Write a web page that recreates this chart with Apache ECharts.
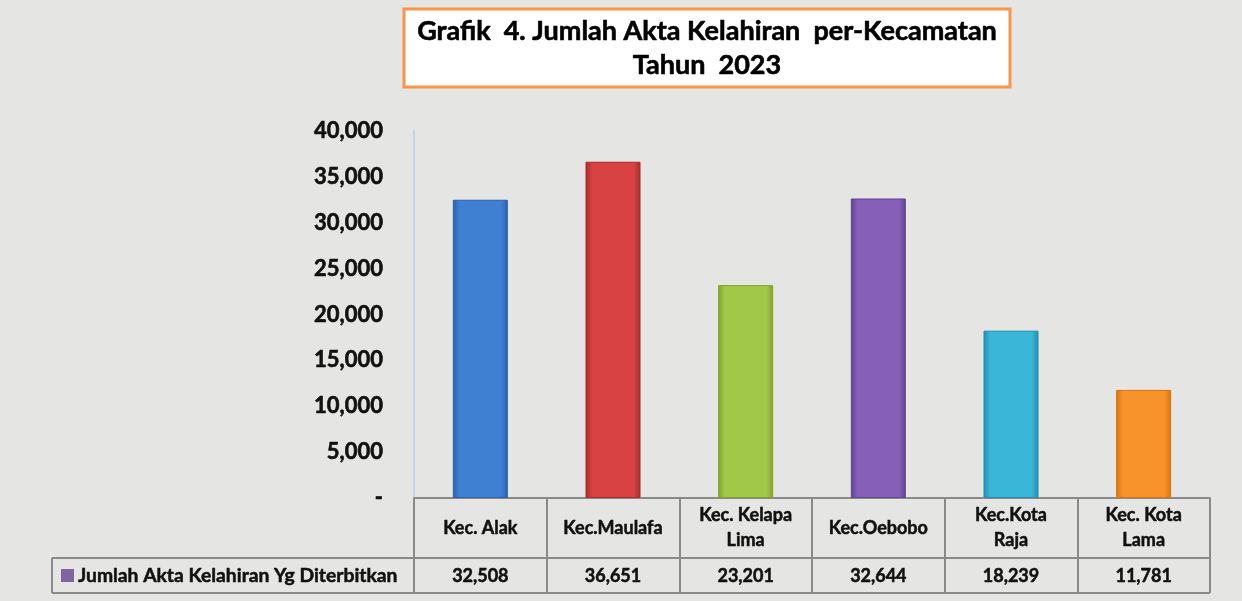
<!DOCTYPE html>
<html>
<head>
<meta charset="utf-8">
<script src="https://cdn.jsdelivr.net/npm/echarts@6/dist/echarts.min.js"></script>
<style>
html,body{margin:0;padding:0;background:#e5e5e3;}
#c{width:1242px;height:601px;}
</style>
</head>
<body>
<div id="c"></div>
<script>
var categories = ["Kec. Alak", "Kec.Maulafa", "Kec. Kelapa\nLima", "Kec.Oebobo", "Kec.Kota\nRaja", "Kec. Kota\nLama"];
var values = [32508, 36651, 23201, 32644, 18239, 11781];
var seriesName = "Jumlah Akta Kelahiran Yg Diterbitkan";
var titleLines = ["Grafik  4. Jumlah Akta Kelahiran  per-Kecamatan", "Tahun  2023"];
var barColors = [
  ["#2a60ad", "#3f80d2"],
  ["#aa2a2a", "#d84242"],
  ["#7fa32a", "#a2c84a"],
  ["#5f4290", "#8660b8"],
  ["#208daf", "#3ab6d8"],
  ["#d8720e", "#f8922a"]
];

function fmt(v) {
  if (v === 0) return "-";
  return String(v).replace(/\B(?=(\d{3})+(?!\d))/g, ",");
}

var FONT = "Lato";
var W = "bold";
var lineCol = "#8a8a8a";
var chart = echarts.init(document.getElementById('c'), null, {renderer: 'canvas'});

var option = {
  backgroundColor: "#e5e5e3",
  animation: false,
  textStyle: {fontFamily: FONT},
  grid: {left: 414, right: 32, top: 131, bottom: 103, containLabel: false},
  xAxis: [
    {
      type: "category",
      data: categories,
      position: "bottom",
      axisLine: {show: true, lineStyle: {color: lineCol, width: 2}},
      axisTick: {show: true, length: 95, lineStyle: {color: lineCol, width: 2}},
      axisLabel: {
        margin: 30, verticalAlign: "middle", lineHeight: 25,
        fontFamily: FONT, fontWeight: W, fontSize: 18, color: "#111",
        textBorderColor: "#111", textBorderWidth: 0.5
      },
      splitLine: {show: false}
    },
    {
      type: "category",
      data: categories,
      position: "bottom",
      offset: 60,
      axisLine: {show: true, lineStyle: {color: lineCol, width: 2}},
      axisTick: {show: false},
      axisLabel: {
        margin: 18, verticalAlign: "middle",
        fontFamily: FONT, fontWeight: W, fontSize: 18, color: "#111",
        textBorderColor: "#111", textBorderWidth: 0.5,
        formatter: function (val, idx) { return fmt(values[idx]); }
      },
      splitLine: {show: false}
    }
  ],
  yAxis: {
    type: "value",
    min: 0, max: 40000, interval: 5000,
    axisLine: {show: true, lineStyle: {color: "#c3d3ee", width: 2}},
    axisTick: {show: false},
    splitLine: {show: false},
    axisLabel: {
      margin: 31, fontFamily: FONT, fontWeight: W, fontSize: 22, color: "#111",
      textBorderColor: "#111", textBorderWidth: 0.6,
      formatter: function (v) { return fmt(v); }
    }
  },
  series: [{
    type: "bar",
    name: seriesName,
    barWidth: 55,
    data: values.map(function (v, i) {
      return {
        value: v,
        itemStyle: {
          color: new echarts.graphic.LinearGradient(0, 0, 1, 0, [
            {offset: 0, color: barColors[i][0]},
            {offset: 0.12, color: barColors[i][1]},
            {offset: 0.88, color: barColors[i][1]},
            {offset: 1, color: barColors[i][0]}
          ]),
          borderColor: barColors[i][0],
          borderWidth: 1
        }
      };
    })
  }],
  graphic: [
    {type: "rect", shape: {x: 404, y: 9, width: 606, height: 78},
      style: {fill: "#ffffff", stroke: "#f79646", lineWidth: 3}},
    {type: "text", x: 707, y: 31,
      style: {text: titleLines[0], fontFamily: FONT, fontWeight: W, fontSize: 27, fill: "#000", stroke: "#000", lineWidth: 0.6, align: "center", verticalAlign: "middle"}},
    {type: "text", x: 707, y: 65,
      style: {text: titleLines[1], fontFamily: FONT, fontWeight: W, fontSize: 27, fill: "#000", stroke: "#000", lineWidth: 0.6, align: "center", verticalAlign: "middle"}},
    {type: "line", shape: {x1: 52, y1: 558, x2: 414, y2: 558}, style: {stroke: lineCol, lineWidth: 2}},
    {type: "line", shape: {x1: 52, y1: 593, x2: 1210, y2: 593}, style: {stroke: lineCol, lineWidth: 2}},
    {type: "line", shape: {x1: 52, y1: 558, x2: 52, y2: 593}, style: {stroke: lineCol, lineWidth: 2}},
    {type: "rect", shape: {x: 61, y: 569, width: 13, height: 13}, style: {fill: "#8064a2"}},
    {type: "text", x: 78, y: 576,
      style: {text: seriesName, fontFamily: FONT, fontWeight: W, fontSize: 19.3, fill: "#111", stroke: "#111", lineWidth: 0.5, verticalAlign: "middle"}}
  ]
};
chart.setOption(option);
</script>
</body>
</html>
